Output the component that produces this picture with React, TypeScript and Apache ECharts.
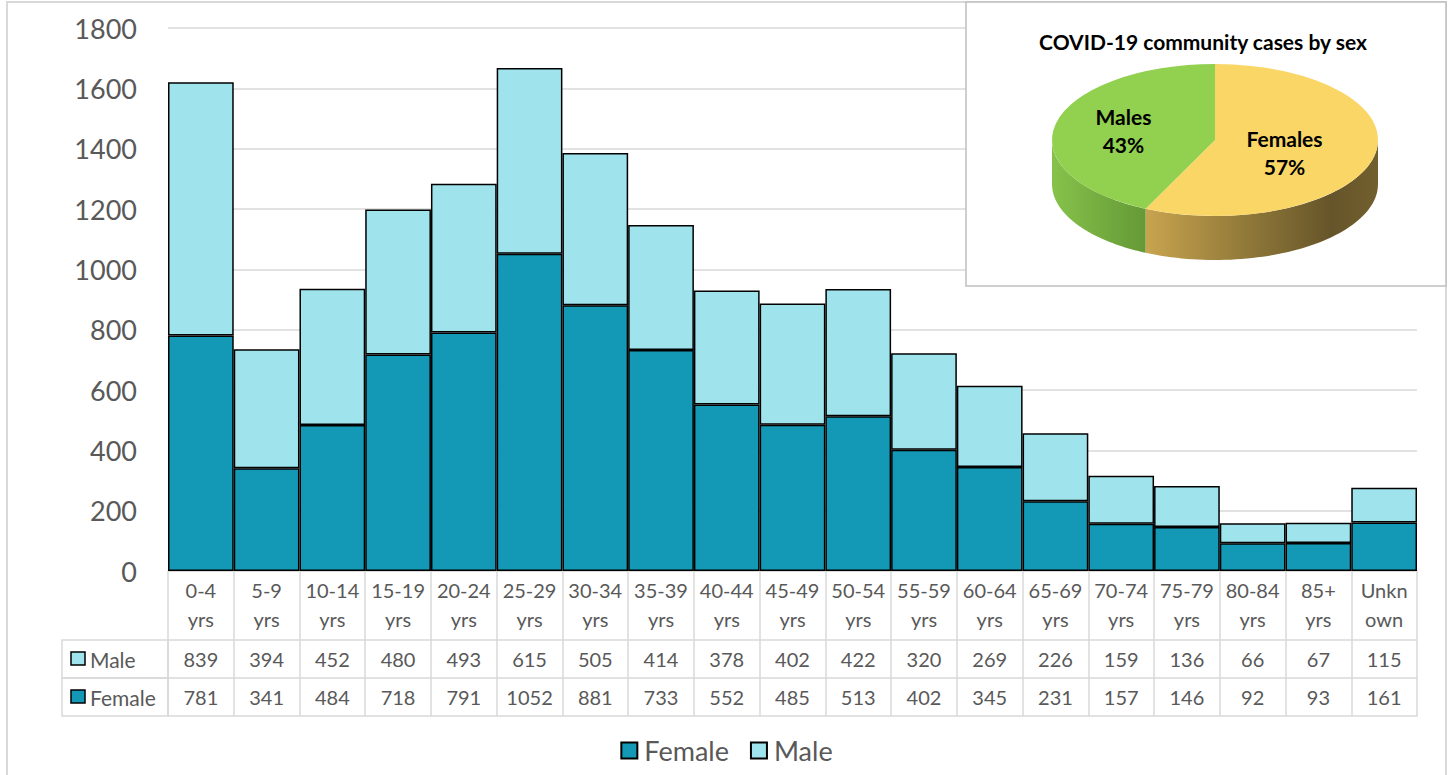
import React, { useEffect, useRef } from "react";
import * as echarts from "echarts";

const categories = [
  "0-4\nyrs", "5-9\nyrs", "10-14\nyrs", "15-19\nyrs", "20-24\nyrs", "25-29\nyrs",
  "30-34\nyrs", "35-39\nyrs", "40-44\nyrs", "45-49\nyrs", "50-54\nyrs", "55-59\nyrs",
  "60-64\nyrs", "65-69\nyrs", "70-74\nyrs", "75-79\nyrs", "80-84\nyrs", "85+\nyrs", "Unkn\nown",
];
const maleValues = [839, 394, 452, 480, 493, 615, 505, 414, 378, 402, 422, 320, 269, 226, 159, 136, 66, 67, 115];
const femaleValues = [781, 341, 484, 718, 791, 1052, 881, 733, 552, 485, 513, 402, 345, 231, 157, 146, 92, 93, 161];
const yMin = 0;
const yMax = 1800;
const yStep = 200;

const pieTitle = "COVID-19 community cases by sex";
const pieLabels = ["Females", "Males"];
const pieValues = [57, 43];

const FEMALE = "#1399b5";
const MALE = "#9fe4ed";
const TEXT = "#595959";
const GRIDC = "#d9d9d9";
const FONT = "Lato";

const pieTop = ["#f9d665", "#92d050"];
const pieSide = [
  [
    { offset: 0, color: "#c8a44f" },
    { offset: 0.45, color: "#8e7738" },
    { offset: 0.8, color: "#66552a" },
    { offset: 1, color: "#725f2e" },
  ],
  [
    { offset: 0, color: "#86c24b" },
    { offset: 1, color: "#659936" },
  ],
];

// pie geometry
const CX = 1215;
const CY = 140;
const RX = 163;
const RY = 76;
const DEPTH = 44;

export default function App() {
  const ref = useRef<HTMLDivElement>(null);

  useEffect(() => {
    if (!ref.current) return;
    const chart = echarts.init(ref.current, undefined, { renderer: "svg" });

    const tableAxis = (grid: number, data: string[], showLabel: boolean) => ({
      type: "category",
      gridIndex: grid,
      data,
      position: "bottom",
      axisLine: { show: true, lineStyle: { color: GRIDC, width: 1.5 } },
      axisTick: { show: false },
      splitLine: { show: true, interval: 0, lineStyle: { color: GRIDC, width: 1.5 } },
      axisLabel: {
        show: showLabel,
        inside: true,
        interval: 0,
        margin: 19,
        verticalAlign: "middle",
        fontSize: 20,
        color: TEXT,
        fontFamily: FONT,
      },
    });

    const hiddenY = (grid: number) => ({ type: "value", gridIndex: grid, show: false, min: 0, max: 1 });

    const total = pieValues.reduce((a, b) => a + b, 0);

    const option: any = {
      animation: false,
      textStyle: { fontFamily: FONT },
      grid: [
        { left: 168, right: 36, top: 28, height: 543, outerBoundsMode: "none" },
        { left: 168, right: 36, top: 571, height: 69, outerBoundsMode: "none" },
        { left: 168, right: 36, top: 640, height: 38, outerBoundsMode: "none" },
        { left: 168, right: 36, top: 678, height: 38, outerBoundsMode: "none" },
      ],
      xAxis: [
        {
          type: "category",
          gridIndex: 0,
          data: categories,
          axisLine: { show: true, lineStyle: { color: GRIDC, width: 1.5 } },
          axisTick: { show: false },
          axisLabel: {
            interval: 0,
            margin: 4,
            fontSize: 20,
            lineHeight: 29,
            color: TEXT,
            fontFamily: FONT,
          },
        },
        tableAxis(1, categories.map(() => ""), false),
        tableAxis(2, maleValues.map(String), true),
        tableAxis(3, femaleValues.map(String), true),
      ],
      yAxis: [
        {
          type: "value",
          gridIndex: 0,
          min: yMin,
          max: yMax,
          interval: yStep,
          axisLine: { show: false },
          axisTick: { show: false },
          splitLine: { lineStyle: { color: GRIDC, width: 1.5 } },
          axisLabel: {
            fontSize: 27,
            color: TEXT,
            margin: 31,
            fontFamily: FONT,
            formatter: (v: number) => String(v),
          },
        },
        hiddenY(1),
        hiddenY(2),
        hiddenY(3),
      ],
      legend: {
        data: ["Female", "Male"],
        left: "center",
        top: 732,
        icon: "rect",
        itemWidth: 16,
        itemHeight: 16,
        itemGap: 21,
        textStyle: { fontSize: 27, color: TEXT, fontFamily: FONT, padding: [0, 0, 0, 2] },
      },
      series: [
        {
          name: "Female",
          type: "bar",
          stack: "total",
          data: femaleValues,
          barCategoryGap: "0%",
          itemStyle: { color: FEMALE, borderColor: "#000", borderWidth: 1.5 },
        },
        {
          name: "Male",
          type: "bar",
          stack: "total",
          data: maleValues,
          barCategoryGap: "0%",
          itemStyle: { color: MALE, borderColor: "#000", borderWidth: 1.5 },
        },
        {
          name: "Cases by sex",
          type: "custom",
          coordinateSystem: "none",
          z: 10,
          silent: true,
          data: pieValues,
          renderItem: (params: any) => {
            const i = params.dataIndex;
            let before = 0;
            for (let k = 0; k < i; k++) before += pieValues[k];
            const a0 = -Math.PI / 2 + (2 * Math.PI * before) / total;
            const a1 = a0 + (2 * Math.PI * pieValues[i]) / total;
            const children: any[] = [];
            const s = Math.max(a0, 0);
            const e = Math.min(a1, Math.PI);
            if (e > s) {
              const N = 60;
              const top: number[][] = [];
              const bottom: number[][] = [];
              for (let n = 0; n <= N; n++) {
                const t = s + ((e - s) * n) / N;
                const x = CX + RX * Math.cos(t);
                const y = CY + RY * Math.sin(t);
                top.push([x, y]);
                bottom.push([x, y + DEPTH]);
              }
              children.push({
                type: "polygon",
                shape: { points: top.concat(bottom.reverse()) },
                style: {
                  fill: {
                    type: "linear",
                    x: 0,
                    y: 0,
                    x2: 1,
                    y2: 0,
                    colorStops: pieSide[i],
                  },
                },
              });
            }
            children.push({
              type: "group",
              x: CX,
              y: CY,
              scaleY: RY / RX,
              children: [
                {
                  type: "sector",
                  shape: { cx: 0, cy: 0, r: RX, r0: 0, startAngle: a0, endAngle: a1, clockwise: true },
                  style: { fill: pieTop[i] },
                },
              ],
            });
            const mid = (a0 + a1) / 2;
            const lr = 0.5;
            children.push({
              type: "text",
              x: CX + lr * RX * Math.cos(mid) - (i === 0 ? 10 : 12),
              y: CY + lr * RY * Math.sin(mid) + (i === 0 ? 4 : -1),
              style: {
                text: pieLabels[i] + "\n" + pieValues[i] + "%",
                fontSize: 21,
                fontWeight: "bold",
                fontFamily: FONT,
                lineHeight: 28,
                fill: "#000",
                align: "center",
                verticalAlign: "middle",
              },
            });
            return { type: "group", children };
          },
        },
      ],
      graphic: [
        {
          type: "rect",
          z: 0,
          silent: true,
          shape: { x: 7, y: 2, width: 1439, height: 800 },
          style: { fill: "none", stroke: GRIDC, lineWidth: 2 },
        },
        {
          type: "rect",
          z: 3,
          silent: true,
          shape: { x: 966, y: 2, width: 480, height: 284 },
          style: { fill: "#fff", stroke: "#bfbfbf", lineWidth: 1.5 },
        },
        {
          type: "text",
          z: 11,
          x: 1203,
          y: 41,
          style: {
            text: pieTitle,
            fontSize: 21,
            fontWeight: "bold",
            fontFamily: FONT,
            fill: "#000",
            align: "center",
            verticalAlign: "middle",
          },
        },
        {
          type: "rect",
          z: 1,
          shape: { x: 62, y: 640, width: 106, height: 38 },
          style: { fill: "none", stroke: GRIDC, lineWidth: 1.5 },
        },
        {
          type: "rect",
          z: 1,
          shape: { x: 62, y: 678, width: 106, height: 38 },
          style: { fill: "none", stroke: GRIDC, lineWidth: 1.5 },
        },
        {
          type: "rect",
          z: 2,
          shape: { x: 71, y: 652, width: 14, height: 13 },
          style: { fill: MALE, stroke: "#000", lineWidth: 1.5 },
        },
        {
          type: "text",
          z: 2,
          x: 90,
          y: 659,
          style: { text: "Male", fontSize: 21, fontFamily: FONT, fill: TEXT, verticalAlign: "middle" },
        },
        {
          type: "rect",
          z: 2,
          shape: { x: 71, y: 690, width: 14, height: 13 },
          style: { fill: FEMALE, stroke: "#000", lineWidth: 1.5 },
        },
        {
          type: "text",
          z: 2,
          x: 90,
          y: 697,
          style: { text: "Female", fontSize: 21, fontFamily: FONT, fill: TEXT, verticalAlign: "middle" },
        },
      ],
    };

    chart.setOption(option);
    return () => chart.dispose();
  }, []);

  return (
    <div
      ref={ref}
      style={{ position: "absolute", left: 0, top: 0, width: 1453, height: 775, background: "#fff" }}
    />
  );
}
